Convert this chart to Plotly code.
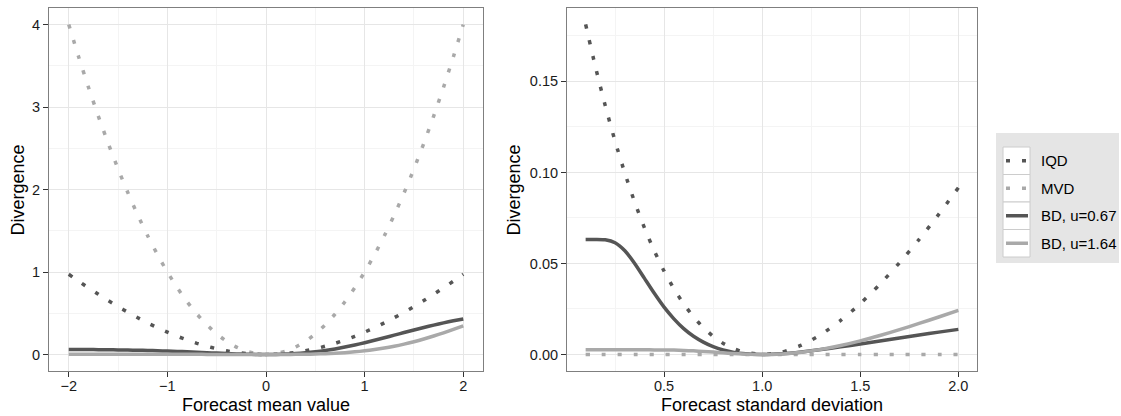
import plotly.graph_objects as go

# ---------------- data ----------------
mean_values = [-2.0, -1.9, -1.8, -1.7, -1.6, -1.5, -1.4, -1.3, -1.2, -1.1, -1.0,
               -0.9, -0.8, -0.7, -0.6, -0.5, -0.4, -0.3, -0.2, -0.1, 0.0,
               0.1, 0.2, 0.3, 0.4, 0.5, 0.6, 0.7, 0.8, 0.9, 1.0,
               1.1, 1.2, 1.3, 1.4, 1.5, 1.6, 1.7, 1.8, 1.9, 2.0]

iqd_mean = [0.972, 0.889, 0.808, 0.730, 0.654, 0.581, 0.512, 0.446, 0.383, 0.325, 0.271,
            0.221, 0.176, 0.135, 0.100, 0.070, 0.045, 0.025, 0.011, 0.003, 0.000,
            0.003, 0.011, 0.025, 0.045, 0.070, 0.100, 0.135, 0.176, 0.221, 0.271,
            0.325, 0.383, 0.446, 0.512, 0.581, 0.654, 0.730, 0.808, 0.889, 0.972]

mvd_mean = [4.00, 3.61, 3.24, 2.89, 2.56, 2.25, 1.96, 1.69, 1.44, 1.21, 1.00,
            0.81, 0.64, 0.49, 0.36, 0.25, 0.16, 0.09, 0.04, 0.01, 0.00,
            0.01, 0.04, 0.09, 0.16, 0.25, 0.36, 0.49, 0.64, 0.81, 1.00,
            1.21, 1.44, 1.69, 1.96, 2.25, 2.56, 2.89, 3.24, 3.61, 4.00]

bd067_mean = [0.0613, 0.0607, 0.0599, 0.0588, 0.0575, 0.0559, 0.0539, 0.0515, 0.0487, 0.0454, 0.0416,
              0.0373, 0.0326, 0.0276, 0.0223, 0.0170, 0.0119, 0.0073, 0.0035, 0.0009, 0.0000,
              0.0011, 0.0046, 0.0109, 0.0202, 0.0328, 0.0487, 0.0679, 0.0902, 0.1153, 0.1428,
              0.1722, 0.2030, 0.2345, 0.2661, 0.2974, 0.3276, 0.3565, 0.3836, 0.4086, 0.4314]

bd164_mean = [0.0025, 0.0025, 0.0025, 0.0025, 0.0025, 0.0025, 0.0024, 0.0024, 0.0023, 0.0023, 0.0021,
              0.0020, 0.0019, 0.0017, 0.0014, 0.0012, 0.0009, 0.0006, 0.0003, 0.0001, 0.0000,
              0.0001, 0.0006, 0.0016, 0.0032, 0.0059, 0.0097, 0.0152, 0.0225, 0.0321, 0.0443,
              0.0596, 0.0781, 0.1001, 0.1258, 0.1551, 0.1880, 0.2241, 0.2632, 0.3048, 0.3482]

sd_values = [0.10, 0.15, 0.20, 0.25, 0.30, 0.35, 0.40, 0.45, 0.50, 0.55, 0.60, 0.65, 0.70, 0.75,
             0.80, 0.85, 0.90, 1.00, 1.10, 1.20, 1.30, 1.40, 1.50, 1.60, 1.70, 1.80, 1.90, 2.00]

iqd_sd = [0.1813, 0.1580, 0.1367, 0.1172, 0.0996, 0.0837, 0.0695, 0.0569, 0.0458, 0.0361, 0.0278,
          0.0207, 0.0148, 0.0100, 0.0062, 0.0034, 0.0015, 0.0000, 0.0013, 0.0051, 0.0110, 0.0187,
          0.0279, 0.0386, 0.0504, 0.0632, 0.0770, 0.0916]

mvd_sd = [0, 0, 0, 0, 0, 0, 0, 0, 0, 0, 0, 0, 0, 0,
          0, 0, 0, 0, 0, 0, 0, 0, 0, 0, 0, 0, 0, 0]

bd067_sd = [0.0632, 0.0632, 0.0630, 0.0614, 0.0570, 0.0500, 0.0418, 0.0336, 0.0260, 0.0196, 0.0142,
            0.0100, 0.0068, 0.0043, 0.0025, 0.0013, 0.0005, 0.0000, 0.0004, 0.0014, 0.0027, 0.0042,
            0.0058, 0.0074, 0.0091, 0.0107, 0.0123, 0.0138]

bd164_sd = [0.00255, 0.00255, 0.00255, 0.00255, 0.00255, 0.00255, 0.00255, 0.00254, 0.00250, 0.00241,
            0.00224, 0.00200, 0.00168, 0.00131, 0.00092, 0.00056, 0.00027, 0.00000, 0.00031, 0.00125,
            0.00281, 0.00493, 0.00750, 0.01044, 0.01365, 0.01706, 0.02060, 0.02421]

series_names = ["IQD", "MVD", "BD, u=0.67", "BD, u=1.64"]
x_title_left = "Forecast mean value"
x_title_right = "Forecast standard deviation"
y_title = "Divergence"

# ---------------- styles ----------------
DARK = "#555555"
LIGHT = "#A9A9A9"
DOTS = "4px,12px"
styles = [
    dict(color=DARK, dash=DOTS),
    dict(color=LIGHT, dash=DOTS),
    dict(color=DARK, dash="solid"),
    dict(color=LIGHT, dash="solid"),
]
LW = 3.5
FONT = "Liberation Sans, Arial, Helvetica, sans-serif"
W, H = 1121, 416

fig = go.Figure()
left_series = [iqd_mean, mvd_mean, bd067_mean, bd164_mean]
right_series = [iqd_sd, mvd_sd, bd067_sd, bd164_sd]
for name, ys, st in zip(series_names, left_series, styles):
    fig.add_trace(go.Scatter(x=mean_values, y=ys, mode="lines", name=name,
                             line=dict(color=st["color"], dash=st["dash"], width=LW,
                                       shape="spline", smoothing=0.6),
                             xaxis="x", yaxis="y", showlegend=False))
for name, ys, st in zip(series_names, right_series, styles):
    fig.add_trace(go.Scatter(x=sd_values, y=ys, mode="lines", name=name,
                             line=dict(color=st["color"], dash=st["dash"], width=LW,
                                       shape="spline", smoothing=0.6),
                             xaxis="x2", yaxis="y2", showlegend=False))


def px_x(p):
    return p / W


def px_y(p):
    return 1 - p / H


axis_common = dict(
    showline=True, linecolor="#7F7F7F", linewidth=1, mirror=True,
    ticks="outside", ticklen=5, tickwidth=1, tickcolor="#333333",
    showgrid=True, gridcolor="#E6E6E6", gridwidth=1,
    zeroline=False,
    tickfont=dict(family=FONT, size=14.5, color="#1A1A1A"),
)
minor_grid = dict(showgrid=True, gridcolor="#F4F4F4", ticks="")

y_top, y_bot = 8, 371
fig.update_layout(
    width=W, height=H,
    margin=dict(l=0, r=0, t=0, b=0),
    paper_bgcolor="white", plot_bgcolor="white",
    showlegend=False,
    xaxis=dict(domain=[px_x(49), px_x(483)], range=[-2.2, 2.2],
               tickvals=[-2, -1, 0, 1, 2], anchor="y", ticklabelstandoff=-3,
               minor=dict(dtick=0.5, tick0=0, **minor_grid), **axis_common),
    yaxis=dict(domain=[px_y(y_bot), px_y(y_top)], range=[-0.2, 4.2],
               tickvals=[0, 1, 2, 3, 4], anchor="x",
               minor=dict(dtick=0.5, tick0=0, **minor_grid), **axis_common),
    xaxis2=dict(domain=[px_x(567), px_x(977)], range=[0.005, 2.095],
                tickvals=[0.5, 1.0, 1.5, 2.0], tickformat=".1f", anchor="y2", ticklabelstandoff=-3,
                minor=dict(dtick=0.25, tick0=0, **minor_grid), **axis_common),
    yaxis2=dict(domain=[px_y(y_bot), px_y(y_top)], range=[-0.00906, 0.19032],
                tickvals=[0.0, 0.05, 0.10, 0.15], tickformat=".2f", anchor="x2",
                minor=dict(dtick=0.025, tick0=0, **minor_grid), **axis_common),
)

title_font = dict(family=FONT, size=18, color="#000000")
annotations = [
    dict(text=x_title_left, x=px_x(266), y=px_y(404.5), xref="paper", yref="paper",
         showarrow=False, xanchor="center", yanchor="middle", font=title_font),
    dict(text=x_title_right, x=px_x(772), y=px_y(404.5), xref="paper", yref="paper",
         showarrow=False, xanchor="center", yanchor="middle", font=title_font),
    dict(text=y_title, x=px_x(17.5), y=px_y(190), xref="paper", yref="paper",
         showarrow=False, xanchor="center", yanchor="middle", textangle=-90, font=title_font),
    dict(text=y_title, x=px_x(513.5), y=px_y(190), xref="paper", yref="paper",
         showarrow=False, xanchor="center", yanchor="middle", textangle=-90, font=title_font),
]

# ---------------- manual legend (ggplot style) ----------------
shapes = [dict(type="rect", xref="paper", yref="paper",
               x0=px_x(996), x1=px_x(1119), y0=px_y(263), y1=px_y(133),
               fillcolor="#E5E5E5", line=dict(width=0), layer="above")]
key_top, key_h = 147, 27.5
for i, (name, st) in enumerate(zip(series_names, styles)):
    t = key_top + i * key_h
    shapes.append(dict(type="rect", xref="paper", yref="paper",
                       x0=px_x(1003), x1=px_x(1030), y0=px_y(t + key_h), y1=px_y(t),
                       fillcolor="white", line=dict(color="#CCCCCC", width=1), layer="above"))
    yc = t + key_h / 2
    shapes.append(dict(type="line", xref="paper", yref="paper",
                       x0=px_x(1006), x1=px_x(1028), y0=px_y(yc), y1=px_y(yc),
                       line=dict(color=st["color"], width=LW, dash=st["dash"]), layer="above"))
    annotations.append(dict(text=name, x=px_x(1039), y=px_y(yc), xref="paper", yref="paper",
                            showarrow=False, xanchor="left", yanchor="middle",
                            font=dict(family=FONT, size=15, color="#000000")))

fig.update_layout(shapes=shapes, annotations=annotations)
fig.write_html("out.html")
